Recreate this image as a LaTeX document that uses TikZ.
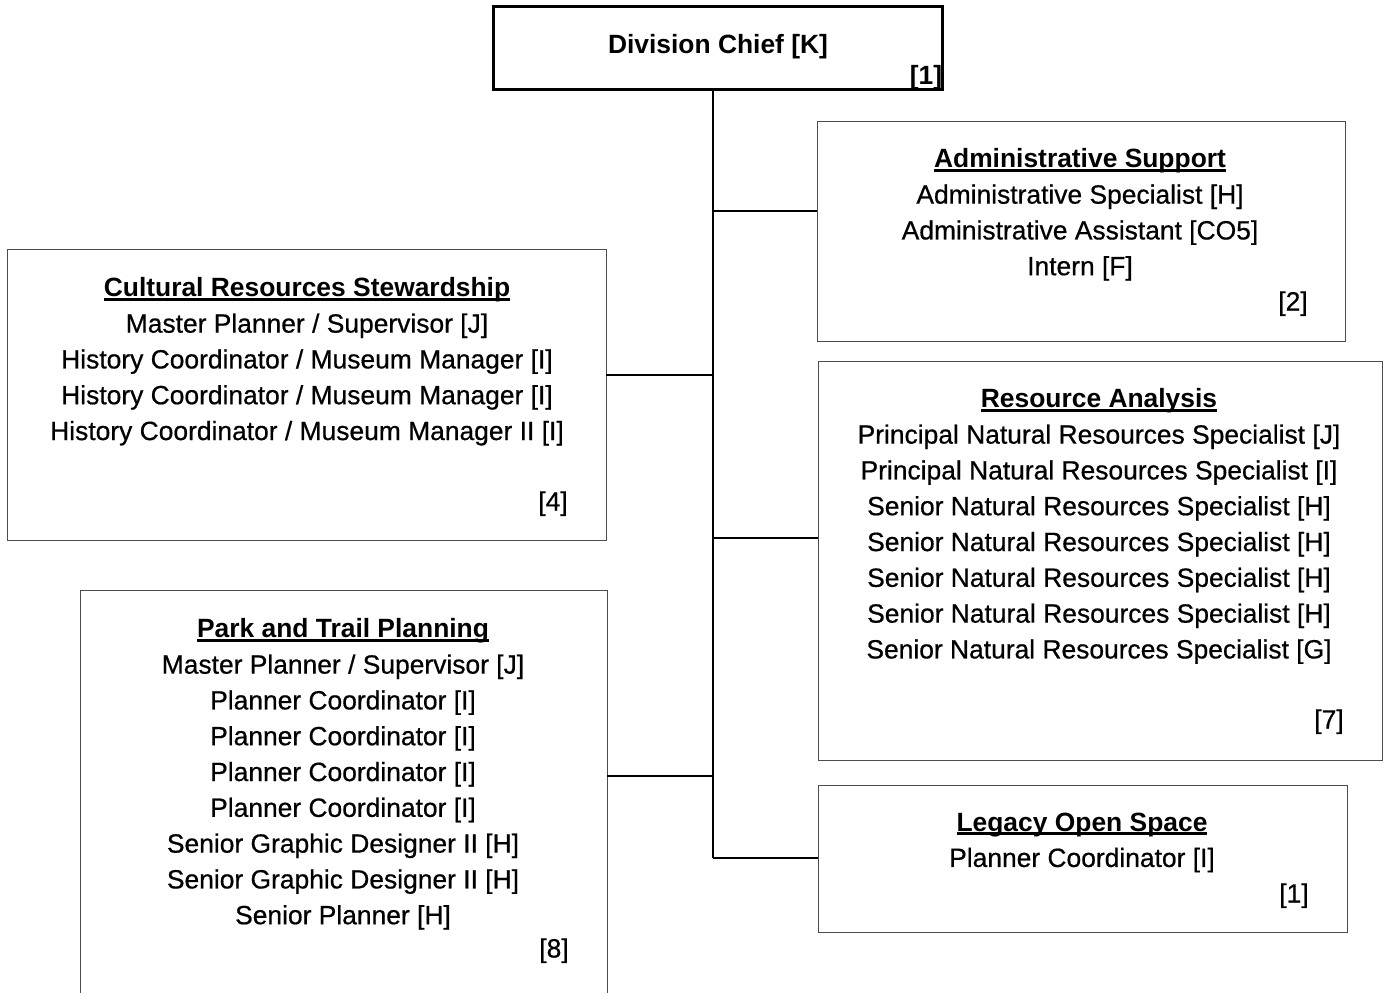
\documentclass[tikz,border=0pt]{standalone}
\usepackage{fontspec}
\setmainfont{Liberation Sans}
\newfontfamily\bodyfont[FakeBold=0.6]{Liberation Sans}
\usetikzlibrary{calc}
% bold, underlined section heading
\newcommand\headline[1]{\setbox0\hbox{\fontspec{Liberation Sans Bold}#1}\rlap{\raisebox{-3.8pt}{\rule{\wd0}{2.6pt}}}\box0}
\begin{document}
\begin{tikzpicture}[x=1pt,y=1pt,
  unitbox/.style={draw=black!70, line width=1pt, inner sep=0, outer sep=0, anchor=north west},
  chiefbox/.style={draw=black, line width=3pt, inner sep=0, outer sep=0, anchor=north west},
  conn/.style={draw=black, line width=2pt},
  body/.style={font=\fontsize{26.4}{35.8}\selectfont\bodyfont, align=center, inner sep=0, anchor=north},
  count/.style={font=\fontsize{26.4}{26.4}\selectfont\bodyfont, inner sep=0, anchor=base}]
\clip (0,0) rectangle (1387,-993);
\fill[white] (0,0) rectangle (1387,-993);

% boxes
\node[chiefbox, minimum width=449, minimum height=83] (chief) at (493.5,-6.5) {};
\node[unitbox, minimum width=528, minimum height=220] (adm)  at (817,-121) {};
\node[unitbox, minimum width=599, minimum height=291] (cult) at (7,-249) {};
\node[unitbox, minimum width=564, minimum height=399] (res)  at (818,-361) {};
\node[unitbox, minimum width=527, minimum height=450] (park) at (80,-590) {};
\node[unitbox, minimum width=529, minimum height=147] (leg)  at (818,-785) {};

% box contents
\node[font=\fontsize{26.4}{26.4}\selectfont\bfseries, inner sep=0, anchor=base] (chieft) at (718,-53.5) {Division Chief [K]};
\node[count, font=\fontsize{26.4}{26.4}\selectfont\bfseries] (chiefn) at (926,-84) {[1]};

\node[body] (admt) at (1080,-148.5) {\headline{Administrative Support}\\
  Administrative Specialist [H]\\ Administrative Assistant [CO5]\\ Intern [F]};
\node[count] (admn) at (1293,-310.5) {[2]};

\node[body] (cultt) at (307,-277.5) {\headline{Cultural Resources Stewardship}\\
  Master Planner / Supervisor [J]\\
  History Coordinator / Museum Manager [I]\\
  History Coordinator / Museum Manager [I]\\
  History Coordinator / Museum Manager II [I]};
\node[count] (cultn) at (553,-510.5) {[4]};

\node[body] (rest) at (1099,-388.5) {\headline{Resource Analysis}\\
  Principal Natural Resources Specialist [J]\\
  Principal Natural Resources Specialist [I]\\
  Senior Natural Resources Specialist [H]\\
  Senior Natural Resources Specialist [H]\\
  Senior Natural Resources Specialist [H]\\
  Senior Natural Resources Specialist [H]\\
  Senior Natural Resources Specialist [G]};
\node[count] (resn) at (1329,-728.5) {[7]};

\node[body] (parkt) at (343,-618.5) {\headline{Park and Trail Planning}\\
  Master Planner / Supervisor [J]\\
  Planner Coordinator [I]\\
  Planner Coordinator [I]\\
  Planner Coordinator [I]\\
  Planner Coordinator [I]\\
  Senior Graphic Designer II [H]\\
  Senior Graphic Designer II [H]\\
  Senior Planner [H]};
\node[count] (parkn) at (554,-957.5) {[8]};

\node[body] (legt) at (1082,-812.5) {\headline{Legacy Open Space}\\ Planner Coordinator [I]};
\node[count] (legn) at (1294,-902.5) {[1]};

% connectors: trunk from the chief down, with a branch to each unit
\coordinate (tb) at (713,-858);
\coordinate (ja) at (713,-211);
\coordinate (jc) at (713,-375);
\coordinate (jr) at (713,-538);
\coordinate (jp) at (713,-776);
\draw[conn] (chief.south -| tb) -- (tb);
\draw[conn] (ja) -- (ja -| adm.west);
\draw[conn] (jc) -- (jc -| cult.east);
\draw[conn] (jr) -- (jr -| res.west);
\draw[conn] (jp) -- (jp -| park.east);
\draw[conn] (tb) -- (tb -| leg.west);
\end{tikzpicture}
\end{document}
